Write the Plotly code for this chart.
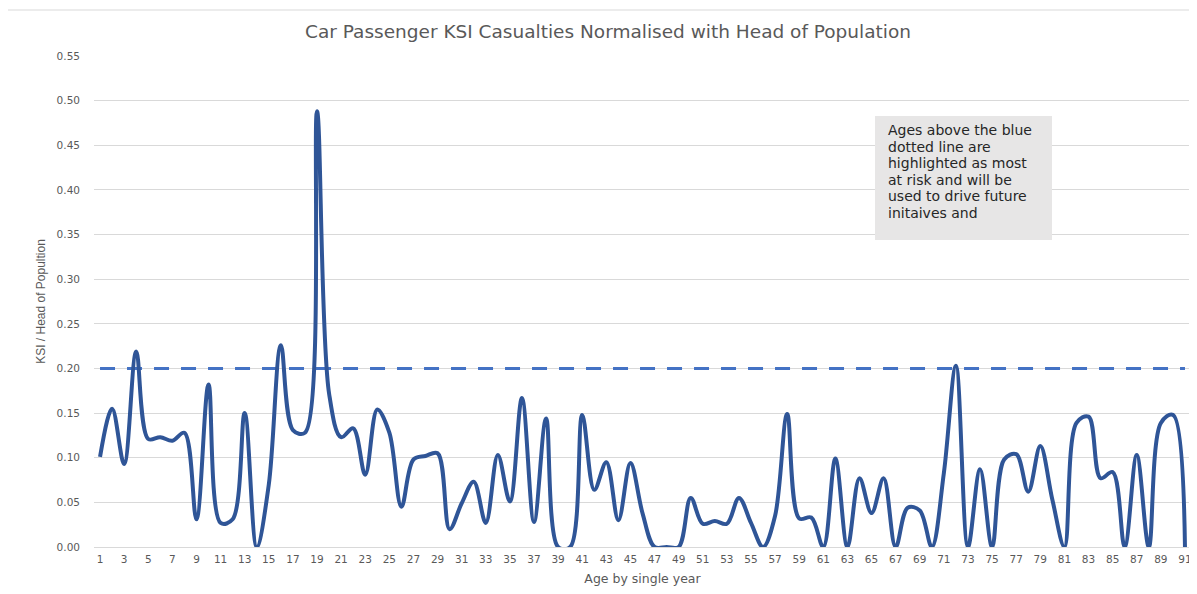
import plotly.graph_objects as go

ages = list(range(1, 92))
ksi_per_head = [
    0.101, 0.155, 0.093, 0.219, 0.121, 0.123, 0.119, 0.128, 0.031, 0.182,
    0.027, 0.031, 0.150, 0.000, 0.070, 0.226, 0.131, 0.128, 0.488, 0.172,
    0.123, 0.133, 0.081, 0.154, 0.128, 0.045, 0.098, 0.102, 0.105, 0.020,
    0.049, 0.073, 0.027, 0.103, 0.051, 0.167, 0.028, 0.144, 0.000, 0.000,
    0.148, 0.064, 0.095, 0.030, 0.094, 0.038, 0.000, 0.000, 0.000, 0.055,
    0.026, 0.029, 0.026, 0.055, 0.027, 0.000, 0.035, 0.149, 0.032, 0.033,
    0.000, 0.099, 0.000, 0.077, 0.038, 0.077, 0.000, 0.044, 0.041, 0.000,
    0.083, 0.203, 0.000, 0.087, 0.000, 0.098, 0.104, 0.062, 0.113, 0.053,
    0.000, 0.139, 0.146, 0.077, 0.084, 0.000, 0.103, 0.000, 0.139, 0.148,
    0.000,
]
threshold = [0.20] * len(ages)
tick_ages = list(range(1, 92, 2))
y_ticks = [0.00, 0.05, 0.10, 0.15, 0.20, 0.25, 0.30, 0.35, 0.40, 0.45, 0.50, 0.55]

title_text = "Car Passenger KSI Casualties Normalised with Head of Population"
note_lines = ["Ages above the blue", "dotted line are", "highlighted as most",
              "at risk and will be", "used to drive future", "initaives and"]

# page has an 8px body margin; work in reference-screen pixels and convert
OFF = 8
WIN_W, WIN_H = 1197, 594
FIG_W, FIG_H = WIN_W - OFF, WIN_H - OFF
PLOT_L, PLOT_R, PLOT_T, PLOT_B = 94, 1191, 56, 547  # reference-screen pixels
ML = PLOT_L - OFF
MR = WIN_W - PLOT_R
MT = PLOT_T - OFF
MB = WIN_H - PLOT_B
PW = PLOT_R - PLOT_L
PH = PLOT_B - PLOT_T


def px_x(x):
    return (x - PLOT_L) / PW


def px_y(y):
    return (PLOT_B - y) / PH


fig = go.Figure()
fig.add_trace(go.Scatter(
    x=ages, y=threshold, mode="lines",
    line=dict(color="#4472C4", width=3, dash="15px,12px"),
    hoverinfo="skip", showlegend=False,
))
fig.add_trace(go.Scatter(
    x=ages, y=ksi_per_head, mode="lines",
    line=dict(color="#2F5597", width=4, shape="spline", smoothing=1.0),
    showlegend=False,
))

grey = "#595959"
tick_font = "DejaVu Sans, sans-serif"

note_annotations = [
    dict(text=line, xref="paper", yref="paper",
         x=px_x(886), y=px_y(130 + i * 16.6), xanchor="left", yanchor="middle",
         align="left", showarrow=False,
         font=dict(size=14, color="#262626", family=tick_font))
    for i, line in enumerate(note_lines)
]

fig.update_layout(
    width=FIG_W, height=FIG_H,
    margin=dict(l=ML, r=MR, t=MT, b=MB),
    paper_bgcolor="white", plot_bgcolor="white",
    font=dict(family=tick_font, color=grey),
    title=dict(text=title_text, x=px_x(608), xref="paper", xanchor="center",
               y=1 - (32 - OFF) / FIG_H, yref="container", yanchor="middle",
               font=dict(size=18.5, color=grey, family=tick_font)),
    xaxis=dict(
        range=[0.5, 91.5], tickmode="array", tickvals=tick_ages,
        ticktext=[str(a) for a in tick_ages], tickangle=0,
        showgrid=False, zeroline=False, showline=False,
        tickfont=dict(size=10.5, color=grey), ticklabelstandoff=4,
        title=dict(text="Age by single year", font=dict(size=12.5, color=grey), standoff=10),
    ),
    yaxis=dict(
        range=[0, 0.55], tickmode="array", tickvals=y_ticks,
        ticktext=[f"{v:.2f}" for v in y_ticks],
        showgrid=True, gridcolor="#D9D9D9", gridwidth=1,
        zeroline=True, zerolinecolor="#D9D9D9", zerolinewidth=1,
        showline=False, tickfont=dict(size=10.5, color=grey), ticklabelstandoff=13,
        title=dict(text="KSI / Head of Popultion",
                   font=dict(size=12, color=grey, family="Liberation Sans Narrow, Arial Narrow, sans-serif"),
                   standoff=8),
    ),
    shapes=[
        dict(type="rect", xref="paper", yref="paper",
             x0=px_x(7), x1=px_x(1210), y0=px_y(610), y1=px_y(10),
             line=dict(color="#D9D9D9", width=1), fillcolor="rgba(0,0,0,0)", layer="below"),
        dict(type="rect", xref="paper", yref="paper",
             x0=px_x(875), x1=px_x(1052), y0=px_y(240), y1=px_y(116),
             line=dict(width=0), fillcolor="#E7E6E6", layer="above"),
    ],
    annotations=note_annotations,
)

fig.write_html("out.html")
